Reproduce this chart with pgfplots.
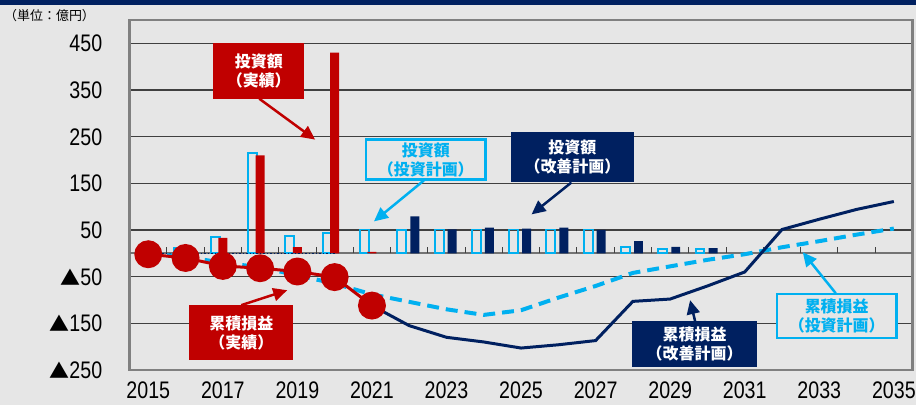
\documentclass[border=0pt]{standalone}
\usepackage{pgfplots}
\pgfplotsset{compat=1.18}
\usepackage{fontspec}
\setmainfont{Liberation Sans}
\newfontfamily\narrow[FakeStretch=0.82]{Liberation Sans}
\newfontfamily\jp{Noto Sans CJK JP}
\usetikzlibrary{arrows.meta}

\definecolor{bg}{HTML}{E6E6E6}
\definecolor{navy}{HTML}{002060}
\definecolor{dred}{HTML}{C00000}
\definecolor{lblue}{HTML}{00B0F0}

\newcommand\tri{{\jp\fontsize{20}{20}\selectfont ▲}}

\begin{document}
\begin{tikzpicture}
\begin{scope}[x=1pt,y=1pt]
\fill[bg] (0,0) rectangle (919,406);
\fill[navy] (0,401) rectangle (919,406);
\node[anchor=west, inner sep=0, font=\jp\fontsize{13}{13}\selectfont] at (4,390) {（単位：億円）};
\end{scope}

\begin{axis}[
  at={(130pt,35pt)}, anchor=south west,
  width=785pt, height=351pt, scale only axis,
  xmin=2014.5, xmax=2035.5, ymin=-250, ymax=500,
  xtick={2015,2017,...,2035},
  xticklabels={2015,2017,2019,2021,2023,2025,2027,2029,2031,2033,2035},
  ytick={-250,-150,...,450},
  yticklabels={{\tri250},{\tri150},{\tri50},50,150,250,350,450},
  major tick length=0pt,
  tick label style={font=\narrow\fontsize{24}{24}\selectfont},
  yticklabel style={anchor=base east, xshift=-24pt, yshift=-8.5pt},
  xticklabel style={yshift=-8pt},
  ymajorgrids, grid style={black!75, line width=1.3pt},
  axis line style={black!50, line width=2.5pt},
]
% zero line with category ticks
\draw[black!55, line width=1.8pt] (axis cs:2014.5,0) -- (axis cs:2035.5,0);
\pgfplotsinvokeforeach{2015,2016,...,2034}{\draw[black!75, line width=1pt] (axis cs:#1.5,0) -- (axis cs:#1.5,13);}

% investment: plan (open), actual (red), improved plan (navy)
\addplot[ybar, bar width=0.24, bar shift=-0.2, draw=lblue, line width=2pt, fill=none]
  coordinates {(2016,12)(2017,35)(2018,214)(2019,38)(2020,43)(2021,51)(2022,50)(2023,51)(2024,51)(2025,51)(2026,51)(2027,51)(2028,13)(2029,9)(2030,9)};
\addplot[ybar, bar width=0.24, bar shift=0, draw=none, fill=dred]
  coordinates {(2016,2)(2017,33)(2018,210)(2019,13)(2020,430)(2021,3)};
\addplot[ybar, bar width=0.24, bar shift=0.15, draw=none, fill=navy]
  coordinates {(2022,79)(2023,51)(2024,55)(2025,53)(2026,55)(2027,50)(2028,26)(2029,14)(2030,11)};

% cumulative profit/loss
\addplot[navy, dotted, line width=1.5pt] coordinates {(2015,0)(2020,0)};
\addplot[lblue, line width=4pt, dash pattern=on 12pt off 7pt]
  coordinates {(2015,0)(2016,-8)(2017,-20)(2018,-30)(2019,-47)(2020,-65)(2021,-88)(2022,-104)(2023,-120)(2024,-132)(2025,-122)(2026,-95)(2027,-70)(2028,-42)(2029,-28)(2030,-14)(2031,-2)(2032,13)(2033,26)(2034,40)(2035,53)};
\addplot[navy, line width=3pt]
  coordinates {(2021,-112)(2022,-155)(2023,-180)(2024,-190)(2025,-203)(2026,-196)(2027,-187)(2028,-103)(2029,-98)(2030,-70)(2031,-40)(2032,51)(2033,73)(2034,94)(2035,111)};
\addplot[dred, line width=3pt, mark=*, mark size=12.5pt, mark options={solid, fill=dred, draw=dred}]
  coordinates {(2015,-2)(2016,-10)(2017,-27)(2018,-32)(2019,-39)(2020,-51)(2021,-112)};
\end{axis}

% callouts
\begin{scope}[x=1pt,y=1pt]
\tikzset{abox/.style={inner sep=0, align=center, font=\jp\bfseries\fontsize{16}{19}\selectfont},
         arr/.style={line width=2.5pt, -{Triangle[length=14pt,width=13pt]}}}
\node[abox, fill=dred, text=white, minimum width=91pt, minimum height=56pt] at (259.5,335) {投資額\\（実績）};
\draw[arr, dred] (260,307) -- (316,266);
\node[abox, draw=lblue, line width=2.5pt, fill=bg, text=lblue, minimum width=120pt, minimum height=40pt] at (427,246) {投資額\\（投資計画）};
\draw[arr, lblue] (425,225) -- (375,184);
\node[abox, fill=navy, text=white, minimum width=124pt, minimum height=51pt] at (574,248.5) {投資額\\（改善計画）};
\draw[arr, navy] (573,223) -- (533,191);
\node[abox, fill=dred, text=white, minimum width=104pt, minimum height=55pt] at (242,72.5) {累積損益\\（実績）};
\draw[arr, dred] (242,100) -- (288,115);
\node[abox, fill=navy, text=white, minimum width=125pt, minimum height=46pt] at (696.5,61) {累積損益\\（改善計画）};
\draw[arr, navy] (697,84) -- (692,105);
\node[abox, draw=lblue, line width=2.5pt, fill=bg, text=lblue, minimum width=120pt, minimum height=44pt] at (839,89) {累積損益\\（投資計画）};
\draw[arr, lblue] (838,112) -- (805,153);
\end{scope}
\end{tikzpicture}
\end{document}
